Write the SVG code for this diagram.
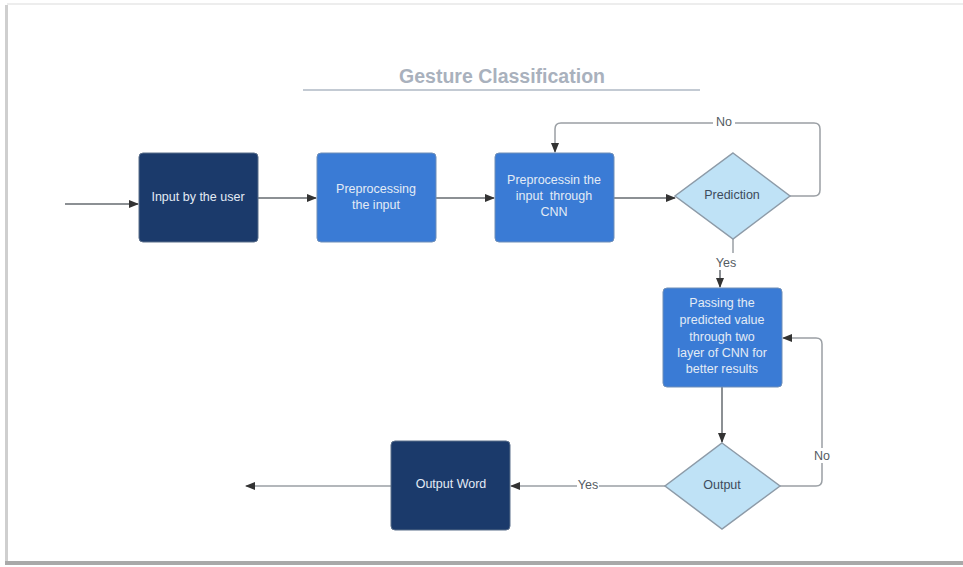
<svg xmlns="http://www.w3.org/2000/svg" width="963" height="567" viewBox="0 0 963 567">
<defs>
<style>
.dark{fill:#1b3a6b;stroke:#5a6e8a;stroke-width:1}
.mid{fill:#3a7bd5;stroke:#6f8fb8;stroke-width:1}
.dia{fill:#bfe2f6;stroke:#8d9ba8;stroke-width:1.5}
.t{font-family:"Liberation Sans",Arial,sans-serif;font-size:12.5px;text-anchor:middle}
.tw{fill:#e3ebf5}
.td{fill:#3d4b5c}
.lbl{font-family:"Liberation Sans",Arial,sans-serif;font-size:12.5px;text-anchor:middle;fill:#555c63}
.c{fill:none;stroke:#666b70;stroke-width:1.5}
.loop{fill:none;stroke:#9a9fa4;stroke-width:1.5}
</style>
<marker id="ah" viewBox="0 0 10 10" refX="9" refY="5" markerWidth="10" markerHeight="10" markerUnits="userSpaceOnUse" orient="auto">
<path d="M0,1 L10,5 L0,9 Z" fill="#333"/>
</marker>
</defs>
<rect x="0" y="0" width="963" height="567" fill="#ffffff"/>
<rect x="7" y="3" width="956" height="2" fill="#ededed"/>
<rect x="5" y="5" width="3" height="558" fill="#cfcfcf"/>
<rect x="5" y="561" width="958" height="4" fill="#a9a9a9"/>
<rect x="8" y="5" width="955" height="556" fill="#ffffff"/>

<g id="title">
<text x="502" y="83" font-family="Liberation Sans,Arial,sans-serif" font-size="19.5" font-weight="bold" text-anchor="middle" fill="#a9b1bd">Gesture Classification</text>
<line x1="303" y1="90" x2="700" y2="90" stroke="#c3cad3" stroke-width="2"/>
</g>

<g id="connectors">
<path class="c" d="M65,204 H138" marker-end="url(#ah)"/>
<path class="c" d="M258,198 H316" marker-end="url(#ah)"/>
<path class="c" d="M436,198 H494" marker-end="url(#ah)"/>
<path class="c" d="M614,198 H675" marker-end="url(#ah)"/>
<path class="loop" d="M790,196 H814 Q820,196 820,190 V129 Q820,123 814,123 H561 Q555,123 555,129 V152" marker-end="url(#ah)"/>
<path class="loop" d="M733,238 V253"/>
<path class="c" d="M720,270 V287" marker-end="url(#ah)"/>
<path class="c" d="M722,387 V442" marker-end="url(#ah)"/>
<path class="loop" d="M780,486 H816 Q822,486 822,480 V344 Q822,338 816,338 H783" marker-end="url(#ah)"/>
<path class="loop" d="M665,486 H511" marker-end="url(#ah)"/>
<path class="loop" d="M391,486 H246" marker-end="url(#ah)"/>
<rect x="713" y="116" width="22" height="13" fill="#ffffff"/>
<text class="lbl" x="724" y="126">No</text>
<text class="lbl" x="726" y="267">Yes</text>
<rect x="577" y="479" width="22" height="13" fill="#ffffff"/>
<text class="lbl" x="588" y="489">Yes</text>
<rect x="812" y="448" width="20" height="15" fill="#ffffff"/>
<text class="lbl" x="822" y="460">No</text>
</g>

<g id="n_input">
<rect class="dark" x="139" y="153" width="119" height="89" rx="4"/>
<text class="t tw" x="198" y="201">Input by the user</text>
</g>
<g id="n_pre">
<rect class="mid" x="317" y="153" width="119" height="89" rx="4"/>
<text class="t tw" x="376" y="193">Preprocessing</text>
<text class="t tw" x="376" y="209">the input</text>
</g>
<g id="n_cnn">
<rect class="mid" x="495" y="153" width="119" height="89" rx="4"/>
<text class="t tw" x="554" y="184">Preprocessin the</text>
<text class="t tw" x="554" y="200">input&#160; through</text>
<text class="t tw" x="554" y="216">CNN</text>
</g>
<g id="n_prediction">
<path class="dia" d="M733,153 L790,196 L733,239 L675,196 Z"/>
<text class="t td" x="732" y="199">Prediction</text>
</g>
<g id="n_pass">
<rect class="mid" x="663" y="288" width="119" height="99" rx="4"/>
<text class="t tw" x="722" y="307">Passing the</text>
<text class="t tw" x="722" y="324">predicted value</text>
<text class="t tw" x="722" y="341">through two</text>
<text class="t tw" x="722" y="357">layer of CNN for</text>
<text class="t tw" x="722" y="373">better results</text>
</g>
<g id="n_output">
<path class="dia" d="M722,443 L780,486 L722,529 L665,486 Z"/>
<text class="t td" x="722" y="489">Output</text>
</g>
<g id="n_word">
<rect class="dark" x="391" y="441" width="119" height="89" rx="4"/>
<text class="t tw" x="451" y="488">Output Word</text>
</g>
</svg>
